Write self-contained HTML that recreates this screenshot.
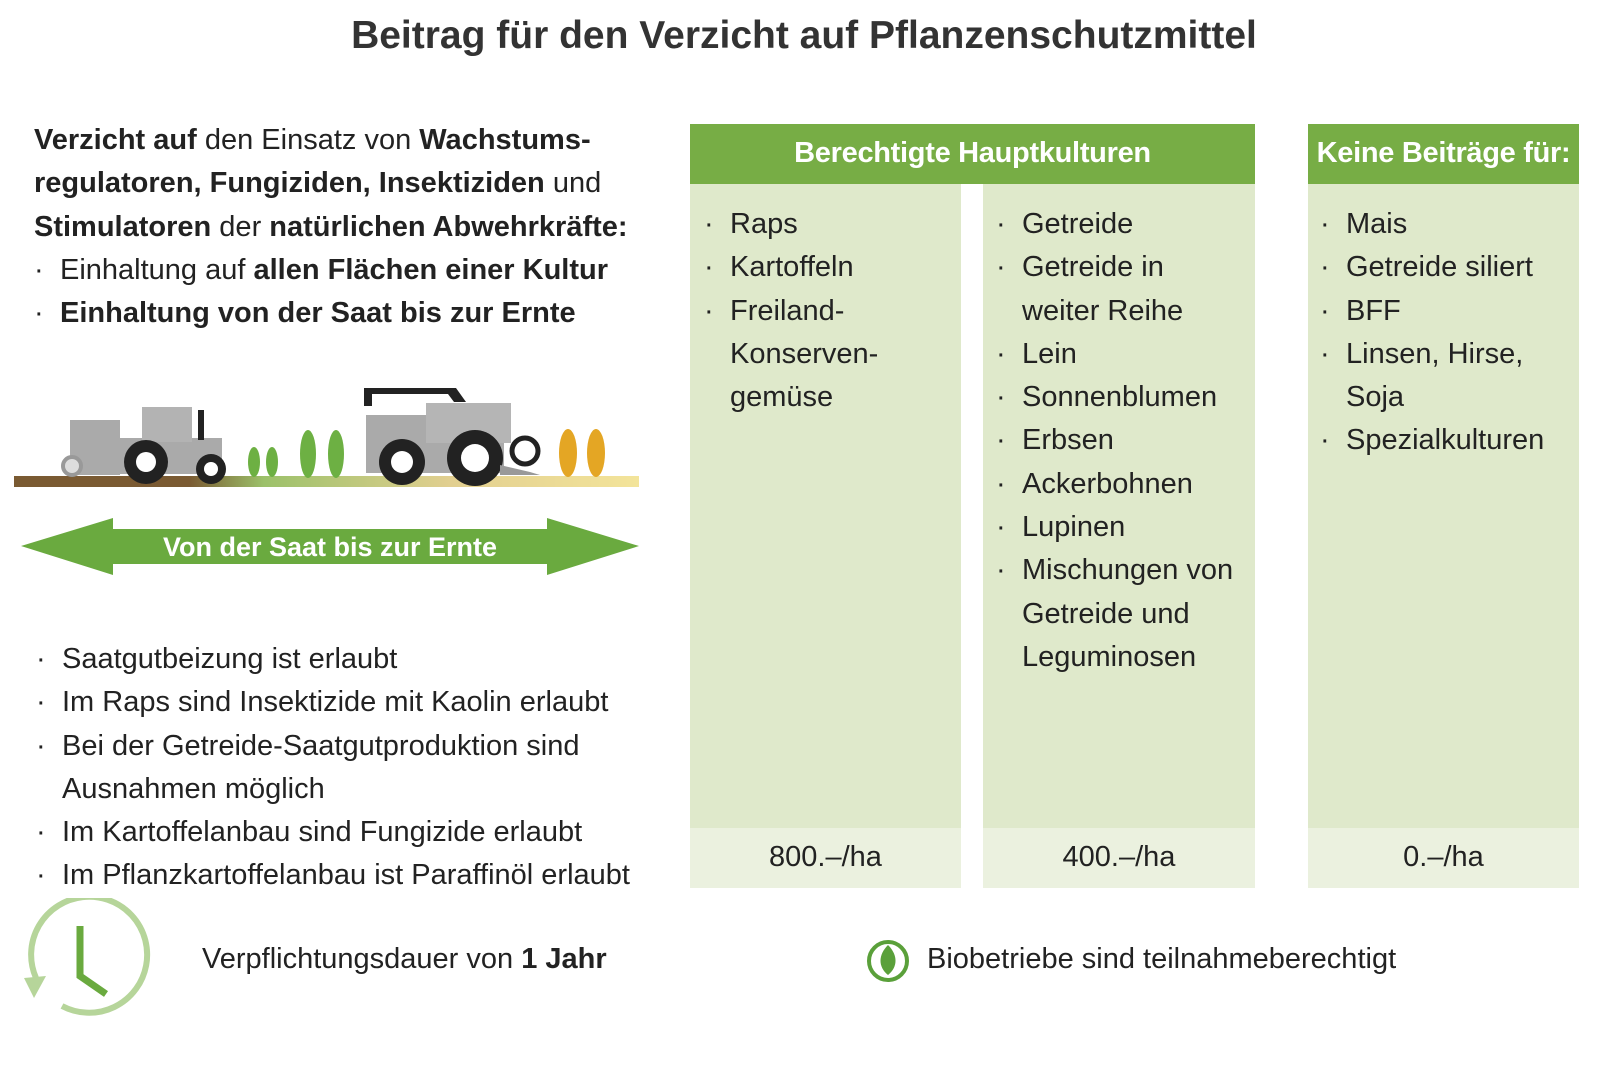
<!DOCTYPE html>
<html><head><meta charset="utf-8"><style>
body{margin:0;width:1600px;height:1067px;background:#fff;font-family:"Liberation Sans Narrow","Liberation Sans",sans-serif;color:#222;position:relative;overflow:hidden}
.a{position:absolute;white-space:nowrap}
.t{font-size:29px;line-height:43.3px}
b{font-weight:bold}
.col{position:absolute;top:124px;background:#dfe9cb}
.hd{background:#77ad45;color:#fff;font-weight:bold;font-size:29px;height:60px;line-height:58px;text-align:center;white-space:nowrap;letter-spacing:-0.3px}
.ft{position:absolute;left:0;right:0;top:704px;height:60px;background:#ebf1df;font-size:29px;line-height:58px;text-align:center}
ul{list-style:none;margin:0;padding:0}
li{position:relative;padding-left:26px}
li:before{content:"·";position:absolute;left:0}
</style></head><body>
<div class="a" style="left:0;width:1608px;text-align:center;top:14px;font-size:39px;font-weight:bold;color:#333">Beitrag für den Verzicht auf Pflanzenschutzmittel</div>

<div class="a t" style="left:34px;top:119px"><b>Verzicht auf</b> den Einsatz von <b>Wachstums-</b><br><b>regulatoren, Fungiziden, Insektiziden</b> und<br><b>Stimulatoren</b> der <b>natürlichen Abwehrkräfte:</b>
<ul><li>Einhaltung auf <b>allen Flächen einer Kultur</b></li><li><b>Einhaltung von der Saat bis zur Ernte</b></li></ul></div>

<svg class="a" style="left:0;top:380px" width="650" height="200" viewBox="0 380 650 200">
<defs><linearGradient id="g" x1="0" x2="1"><stop offset="0" stop-color="#7a5a32"/><stop offset="0.28" stop-color="#7a5a32"/><stop offset="0.4" stop-color="#9cc16a"/><stop offset="0.7" stop-color="#e2cf90"/><stop offset="1" stop-color="#f3e49a"/></linearGradient></defs>
<rect x="14" y="476" width="625" height="11" fill="url(#g)"/>
<rect x="70" y="420" width="50" height="55" fill="#aaa"/>
<circle cx="72" cy="466" r="9" fill="#ddd" stroke="#999" stroke-width="4"/>
<rect x="110" y="438" width="112" height="36" fill="#aaa"/>
<rect x="142" y="407" width="50" height="35" fill="#b3b3b3"/>
<rect x="198" y="410" width="6" height="30" fill="#222"/>
<circle cx="146" cy="462" r="22" fill="#222"/><circle cx="146" cy="462" r="10" fill="#fff"/>
<circle cx="211" cy="469" r="15" fill="#222"/><circle cx="211" cy="469" r="7" fill="#fff"/>
<rect x="366" y="415" width="138" height="58" fill="#aaa"/><rect x="426" y="403" width="85" height="40" fill="#b5b5b5"/>
<path d="M364 388h92l10 14h-12l-6-8h-76v12h-8z" fill="#222"/>
<circle cx="402" cy="462" r="23" fill="#222"/><circle cx="402" cy="462" r="11" fill="#fff"/>
<circle cx="475" cy="458" r="28" fill="#222"/><circle cx="475" cy="458" r="14" fill="#fff"/>
<circle cx="525" cy="451" r="13" fill="none" stroke="#222" stroke-width="5"/>
<path d="M500 465l30 7l10 3h-40z" fill="#999"/>
<g fill="#6db043"><ellipse cx="254" cy="462" rx="6" ry="15"/><ellipse cx="272" cy="462" rx="6" ry="15"/><ellipse cx="308" cy="454" rx="8" ry="24"/><ellipse cx="336" cy="454" rx="8" ry="24"/></g>
<g fill="#e4a624"><ellipse cx="568" cy="453" rx="9" ry="24"/><ellipse cx="596" cy="453" rx="9" ry="24"/></g>
<path d="M21 546L113 518V529H547V518L639 546L547 575V564H113V575Z" fill="#6aaa3f"/>
<text x="330" y="556" text-anchor="middle" font-family="Liberation Sans Narrow, Liberation Sans, sans-serif" font-weight="bold" font-size="27" fill="#fff">Von der Saat bis zur Ernte</text>
</svg>

<div class="a t" style="left:36px;top:638px"><ul><li>Saatgutbeizung ist erlaubt</li><li>Im Raps sind Insektizide mit Kaolin erlaubt</li><li>Bei der Getreide-Saatgutproduktion sind<br>Ausnahmen möglich</li><li>Im Kartoffelanbau sind Fungizide erlaubt</li><li>Im Pflanzkartoffelanbau ist Paraffinöl erlaubt</li></ul></div>

<div class="col" style="left:690px;width:271px;height:764px"><div class="ft">800.–/ha</div></div>
<div class="col" style="left:983px;width:272px;height:764px"><div class="ft">400.–/ha</div></div>
<div class="a hd" style="left:690px;width:565px;top:124px">Berechtigte Hauptkulturen</div>
<div class="col" style="left:1308px;width:271px;height:764px"><div class="hd">Keine Beiträge für:</div><div class="ft">0.–/ha</div></div>

<div class="a t" style="left:704px;top:203px"><ul><li>Raps</li><li>Kartoffeln</li><li>Freiland-<br>Konserven-<br>gemüse</li></ul></div>
<div class="a t" style="left:996px;top:203px"><ul><li>Getreide</li><li>Getreide in<br>weiter Reihe</li><li>Lein</li><li>Sonnenblumen</li><li>Erbsen</li><li>Ackerbohnen</li><li>Lupinen</li><li>Mischungen von<br>Getreide und<br>Leguminosen</li></ul></div>
<div class="a t" style="left:1320px;top:203px"><ul><li>Mais</li><li>Getreide siliert</li><li>BFF</li><li>Linsen, Hirse,<br>Soja</li><li>Spezialkulturen</li></ul></div>

<svg class="a" style="left:20px;top:898px" width="135" height="130">
<path d="M42 108A58 58 0 1 0 16 80" fill="none" stroke="#b6d59a" stroke-width="6"/>
<path d="M4 80L26 78L14 100Z" fill="#b6d59a"/>
<path d="M60 28V78L86 96" fill="none" stroke="#6aaa3f" stroke-width="7"/>
</svg>
<div class="a t" style="left:202px;top:938px">Verpflichtungsdauer von <b>1 Jahr</b></div>

<svg class="a" style="left:864px;top:937px" width="48" height="48">
<circle cx="24" cy="24" r="19" fill="none" stroke="#5aa03a" stroke-width="4"/>
<path d="M24 8C34 18 34 30 24 38C14 30 14 18 24 8Z" fill="#5aa03a"/>
</svg>
<div class="a t" style="left:927px;top:938px">Biobetriebe sind teilnahmeberechtigt</div>
</body></html>
